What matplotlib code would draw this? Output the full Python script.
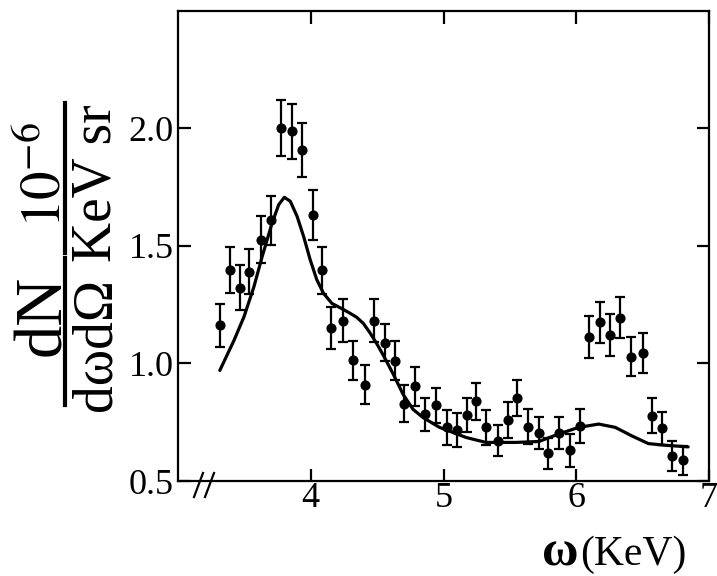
import matplotlib
matplotlib.use("Agg")
import matplotlib.pyplot as plt
from matplotlib.lines import Line2D

plt.rcParams['font.family'] = ['Liberation Serif', 'DejaVu Serif']
plt.rcParams['mathtext.fontset'] = 'stix'

# measured spectrum (photon energy in KeV, yield in units of 1e-6 / KeV sr)
omega = [3.315, 3.392, 3.464, 3.537, 3.627, 3.699, 3.779, 3.859, 3.931, 4.016,
         4.086, 4.154, 4.241, 4.316, 4.406, 4.473, 4.556, 4.633, 4.703, 4.785,
         4.860, 4.945, 5.025, 5.100, 5.175, 5.245, 5.320, 5.412, 5.487, 5.557,
         5.639, 5.719, 5.789, 5.869, 5.951, 6.031, 6.099, 6.176, 6.253, 6.331,
         6.411, 6.500, 6.568, 6.643, 6.718, 6.805]
yield_meas = [1.162, 1.397, 1.322, 1.390, 1.526, 1.608, 2.000, 1.986, 1.906, 1.630,
              1.396, 1.151, 1.181, 1.013, 0.909, 1.181, 1.088, 1.011, 0.828, 0.903,
              0.783, 0.821, 0.728, 0.717, 0.781, 0.838, 0.728, 0.671, 0.759, 0.853,
              0.731, 0.705, 0.617, 0.705, 0.630, 0.734, 1.112, 1.174, 1.120, 1.195,
              1.029, 1.044, 0.778, 0.725, 0.607, 0.588]
yield_err = [0.092, 0.098, 0.097, 0.095, 0.101, 0.103, 0.120, 0.118, 0.114, 0.106,
             0.100, 0.089, 0.092, 0.083, 0.083, 0.092, 0.080, 0.083, 0.078, 0.083,
             0.071, 0.075, 0.073, 0.073, 0.071, 0.079, 0.073, 0.066, 0.075, 0.076,
             0.073, 0.069, 0.066, 0.069, 0.069, 0.071, 0.089, 0.089, 0.088, 0.088,
             0.084, 0.084, 0.073, 0.070, 0.063, 0.062]

# calculated spectrum
omega_calc = [3.315, 3.422, 3.497, 3.572, 3.634, 3.709, 3.759, 3.801, 3.846, 3.897,
              3.946, 3.996, 4.046, 4.096, 4.159, 4.246, 4.296, 4.346, 4.396, 4.446,
              4.496, 4.546, 4.620, 4.696, 4.770, 4.845, 4.970, 5.170, 5.320, 5.420,
              5.545, 5.719, 5.869, 6.019, 6.169, 6.294, 6.418, 6.543, 6.668, 6.843]
yield_calc = [0.970, 1.098, 1.198, 1.326, 1.454, 1.597, 1.675, 1.706, 1.689, 1.625,
              1.540, 1.440, 1.355, 1.298, 1.255, 1.229, 1.213, 1.196, 1.170, 1.130,
              1.085, 1.035, 0.956, 0.868, 0.805, 0.770, 0.728, 0.685, 0.664, 0.664,
              0.664, 0.668, 0.700, 0.728, 0.742, 0.728, 0.692, 0.659, 0.652, 0.645]

x_ticks = [4, 5, 6, 7]
y_ticks = [0.5, 1.0, 1.5, 2.0]
y_ticklabels = ['0.5', '1.0', '1.5', '2.0']

W, H = 717, 576
fig = plt.figure(figsize=(W / 100, H / 100), dpi=100)
fig.patch.set_facecolor('white')


def fx(px):
    return px / W


def fy(py):
    return 1 - py / H


ax = fig.add_axes([fx(178), fy(481), fx(709) - fx(178), fy(10.5) - fy(481)])

ax.errorbar(omega, yield_meas, yerr=yield_err, fmt='o', color='black',
            markersize=6.3, elinewidth=1.6, capsize=3.5, capthick=1.6, zorder=3)
ax.plot(omega_calc, yield_calc, color='black', lw=2.3, solid_joinstyle='round',
        solid_capstyle='round', zorder=2)

ax.set_xlim(3.0, 7.0)
ax.set_ylim(0.5, 2.5)
ax.set_xticks(x_ticks)
ax.set_xticklabels([str(t) for t in x_ticks])
ax.set_yticks(y_ticks)
ax.set_yticklabels(y_ticklabels)

ax.tick_params(direction='in', length=9, width=1.6, top=True, right=True,
               labelsize=26, colors='black')
ax.tick_params(axis='x', pad=1)
ax.tick_params(axis='y', pad=3)
for sp in ax.spines.values():
    sp.set_linewidth(1.6)

# axis break marks on the omega axis
for x0 in (194, 205):
    ax.add_line(Line2D([(x0 - 178) / 531, (x0 + 9 - 178) / 531],
                       [-0.034, 0.017], transform=ax.transAxes,
                       color='black', lw=1.6, clip_on=False))

# y label: dN/dωdΩ  10^-6/(KeV sr), written sideways, anchored on the baseline
side = dict(rotation=90, rotation_mode='anchor', ha='center', va='baseline')
fig.text(fx(60), fy(315), 'dN', fontsize=48, **side)
fig.text(fx(111), fy(344), 'dωdΩ', fontsize=40, **side)
fig.text(fx(60), fy(175), r'$10^{-6}$', fontsize=41, **side)
fig.text(fx(111), fy(183), 'KeV sr', fontsize=40, **side)
fig.add_artist(Line2D([fx(65), fx(65)], [fy(258), fy(405)], color='black', lw=3))
fig.add_artist(Line2D([fx(65), fx(65)], [fy(103), fy(253)], color='black', lw=3))

# x label
fig.text(fx(560), fy(565), 'ω', ha='center', va='baseline', fontsize=36,
         fontweight='bold')
fig.text(fx(580), fy(565), '(KeV)', ha='left', va='baseline', fontsize=30)

fig.savefig('out.png', dpi=100, facecolor='white')
